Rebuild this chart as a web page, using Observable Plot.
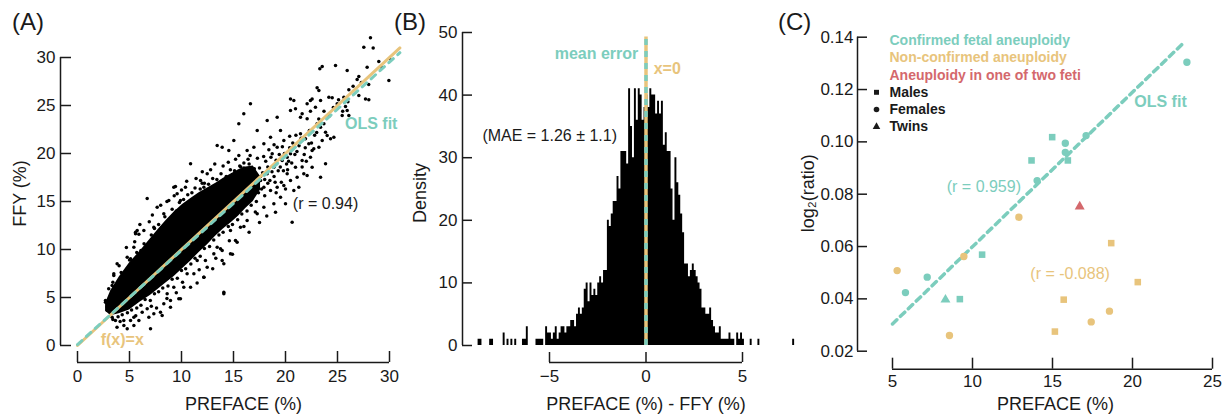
<!DOCTYPE html>
<html>
<head>
<meta charset="utf-8">
<script src="https://cdn.jsdelivr.net/npm/d3@7"></script>
<script src="https://cdn.jsdelivr.net/npm/@observablehq/plot@0.6"></script>
<style>
  html, body { margin: 0; padding: 0; background: #fff; }
  #wrap { position: relative; width: 1226px; height: 414px; overflow: hidden; font-family: "Liberation Sans", Arial, Helvetica, sans-serif; }
  .plab { position: absolute; font-size: 24px; line-height: 28px; color: #1a1a1a; }
</style>
</head>
<body>
<div id="wrap">
  <div class="plab" style="left:12px;top:8px">(A)</div>
  <div class="plab" style="left:394px;top:8px">(B)</div>
  <div class="plab" style="left:778px;top:8px">(C)</div>
</div>
<script>
// ---------------- DATA ----------------
// Panel A: dense core of the PREFACE vs FFY cloud (lower / upper envelope)
const coreX  = [2.7, 3.2, 4.0, 5.0, 6.0, 7.0, 7.7, 8.5, 9.3, 10.1, 10.9, 11.7, 12.5, 13.3, 14.0, 14.8, 15.5, 16.2, 16.9, 17.6];
const coreLo = [3.6, 3.1, 3.3, 3.7, 4.5, 5.2, 5.8, 6.5, 7.2, 8.0, 8.8, 9.7, 10.5, 11.4, 12.1, 12.8, 13.5, 14.3, 15.0, 16.2];
const coreHi = [4.4, 5.7, 7.1, 8.6, 9.8, 11.1, 12.0, 13.0, 13.9, 14.7, 15.3, 15.9, 16.4, 16.9, 17.4, 17.9, 18.3, 18.6, 18.7, 17.6];
// Panel A: individually visible samples [PREFACE, FFY]
const samplesA = [
[28.17,32.05],[27.53,31.08],[28.43,31.0],[28.97,29.58],[29.94,27.6],[27.85,28.99],[27.05,28.02],[26.89,27.71],[25.93,28.65],[24.81,29.17],
[23.53,29.06],[23.3,28.82],[27.05,26.04],[27.69,25.69],[28.01,25.59],[26.09,26.63],[25.61,25.87],[24.97,25.17],[25.77,24.9],[25.93,24.48],
[25.45,23.96],[26.09,23.96],[24.17,25.87],[24.49,25.8],[23.37,25.52],[23.21,26.56],[23.04,26.84],[22.56,25.69],[22.4,25.52],[22.08,25.17],
[22.88,24.83],[22.4,24.41],[21.6,24.13],[20.8,25.52],[20.48,25.69],[20.96,24.65],[20.48,24.48],[21.44,23.78],[22.08,23.61],[23.04,23.09],
[23.37,22.74],[23.69,23.09],[23.85,22.22],[24.01,21.88],[24.33,21.53],[24.65,21.7],[23.53,21.35],[23.21,20.66],[22.72,20.49],[22.56,20.31],
[21.44,22.05],[21.92,21.53],[22.24,21.01],[20.8,20.66],[20.48,19.97],[20.16,19.62],[19.84,21.35],[19.52,22.4],[19.2,23.78],[18.24,23.44],
[17.28,22.4],[16.63,25.17],[15.99,24.13],[15.51,23.09],[15.03,21.35],[14.55,20.31],[13.91,20.66],[13.43,20.83],[15.51,19.79],[16.31,20.31],
[16.96,20.66],[17.92,21.01],[18.56,21.7],[19.2,20.66],[18.72,19.97],[19.68,19.27],[18.88,18.58],[18.24,17.88],[17.6,17.19],[16.96,16.49],
[17.92,16.49],[18.56,16.15],[19.2,16.49],[19.84,16.67],[20.48,17.19],[21.12,17.53],[21.76,17.88],[22.56,18.58],[20.96,18.58],[20.16,17.88],
[19.52,15.45],[18.88,14.76],[19.04,13.89],[20.64,12.85],[21.28,16.49],[22.08,17.71],[23.37,17.53],[23.85,18.92],[22.4,19.62],[21.6,19.27],
[20.8,16.15],[20.0,14.76],[17.92,14.41],[17.28,13.72],[16.31,13.02],[15.67,12.33],[15.19,10.94],[14.07,8.51],[14.71,9.55],[14.07,5.38],
[13.75,10.07],[13.11,9.55],[12.15,7.12],[12.47,8.16],[11.51,8.85],[11.03,9.55],[10.87,18.92],[10.38,16.49],[11.83,17.19],[12.47,17.88],
[12.15,16.49],[13.43,15.45],[11.19,15.1],[9.9,15.1],[9.26,16.49],[8.78,15.1],[8.3,13.72],[7.66,14.41],[6.7,15.3],[7.34,12.33],
[6.38,11.98],[5.74,11.98],[5.58,11.63],[5.42,10.24],[4.78,9.2],[3.81,8.51],[3.49,7.47],[2.69,4.51],[2.85,3.65],[3.33,2.95],
[3.65,2.6],[4.46,2.08],[5.1,2.6],[5.42,2.95],[6.22,3.47],[6.7,3.82],[7.34,3.3],[7.98,3.47],[8.3,4.34],[8.94,3.99],
[9.9,4.86],[8.62,5.38],[9.26,6.08],[10.22,6.08],[10.54,7.47],[11.19,7.47],
[9.42,16.56],[11.99,16.9],[9.58,15.8],[10.54,14.76],[5.58,11.8],[5.9,11.6],[7.34,10.59],[5.1,9.03],[4.3,7.12],[3.49,7.29],
[3.33,6.25],[2.69,4.69],[2.85,4.0],[4.45,2.6],[4.78,1.74],[5.42,2.08],[6.86,2.95],[8.14,3.12],[7.02,1.74],[8.94,4.69],
[9.74,4.86],[10.87,6.08],[12.15,7.12],[12.3,8.85],[13.91,8.85],[14.07,5.55],[13.43,10.24],[13.91,9.9],[14.71,11.98],[15.35,10.76],
[15.51,15.1],[14.07,15.8],[10.87,15.1],[11.5,14.76],
[16.5,18.9],[17.0,18.4],[17.3,19.5],[17.8,18.0],[18.1,19.2],[18.5,17.2],[18.9,17.6],[19.3,18.2],[19.6,17.0],[20.1,18.9],
[20.4,20.6],[20.9,19.9],[21.3,20.8],[21.6,18.6],[22.0,19.2],[16.2,17.9],[16.8,15.4],[17.4,15.9],[18.0,15.6],[16.0,19.0],[15.7,18.6],
[3.0,5.9],[3.4,6.6],[3.8,6.2],[4.2,7.6],[4.6,7.1],[5.0,8.9],[5.3,8.4],[5.7,9.7],[6.1,9.9],[6.4,10.6],[6.8,10.2],[7.1,11.5],
[7.4,12.2],[7.8,12.6],[8.1,12.3],[8.4,13.4],[8.8,13.1],[9.1,14.2],[9.5,14.0],[9.8,14.9],[10.2,15.2],[10.6,15.7],[11.0,15.9],
[11.3,16.4],[11.8,16.3],[12.2,16.9],[12.6,16.8],[13.0,17.4],[13.4,17.3],[13.8,17.9],[14.3,17.6],[14.7,18.3],[15.1,18.2],
[15.6,18.7],[16.0,18.5],[16.4,19.4],
[3.4,2.7],[3.9,3.0],[4.3,3.2],[4.8,3.4],[5.2,3.7],[5.7,3.9],[6.1,4.2],[6.5,4.8],[7.0,4.7],[7.4,5.4],[7.8,5.6],[8.2,6.0],
[8.7,6.2],[9.1,6.9],[9.6,7.0],[10.0,7.8],[10.4,8.0],[10.9,8.5],[11.3,9.1],[11.8,9.3],[12.2,10.1],[12.7,10.3],[13.1,11.0],
[13.6,11.5],[14.0,11.8],[14.5,12.4],[14.9,12.6],[15.4,13.1],[15.8,13.7],[16.3,14.0],[16.7,14.6],[17.2,15.0],
[4.0,8.3],[5.5,10.8],[6.9,12.9],[8.0,14.6],[9.3,15.6],[10.5,17.1],[12.0,18.1],[13.2,18.9],[14.5,19.1],[3.8,1.9],[5.9,2.6],
[7.6,3.9],[9.5,5.5],[11.5,6.5],[13.0,8.0],[14.9,9.5],[16.5,11.8],[17.5,12.8],[18.2,13.5],
[17.6,17.6],[18.3,18.6],[18.7,18.1],[19.1,19.3],[19.5,18.6],[19.9,20.0],[20.3,19.2],[20.7,21.1],[21.1,20.2],[21.5,21.6],
[21.9,20.6],[22.3,22.4],[22.8,21.9],[23.2,23.6],[23.7,24.4],[24.2,23.9],[24.6,24.8],[25.1,25.6],[25.5,24.4],[26.0,25.4],
[26.5,27.0],[27.3,27.4],[28.0,27.2],[29.2,29.0],[30.0,29.9],[17.0,16.9],[17.5,18.5],[18.0,17.3],[18.6,19.6],[19.0,17.0],
[19.4,19.9],[20.2,18.3],[20.6,19.0],[21.0,21.9],[21.8,19.9],[22.5,21.1],[23.0,22.2],
[17.9,19.7],[18.4,20.4],[18.9,20.9],[19.7,20.7],[20.4,21.8],[19.8,18.2],[18.3,16.9],[17.7,16.3],[19.1,15.9],[20.0,16.3],
[16.6,19.8],[15.2,19.4],[14.0,18.7],[12.8,18.3],[11.4,17.4],[10.0,16.2],[8.6,15.0],[7.2,13.6],[6.0,12.6],[4.7,10.2],
[4.1,2.5],[5.6,3.1],[7.1,4.1],[8.6,4.9],[10.1,6.6],[11.7,7.9],[13.3,9.1],[14.6,10.9],[16.0,12.4],[17.1,13.9]
];
const identityA = [[0, 0], [31, 31]];        // f(x) = x
const olsA      = [[0, 0.1], [31, 30.5]];    // OLS fit
const ticksA    = [0, 5, 10, 15, 20, 25, 30];

// Panel B: histogram of PREFACE - FFY (bins of 0.1 starting at -8.7)
const histStart = -8.7, histWidth = 0.1;
const histCounts = [
 1,1,0,0,0,0,1,1,0,0,
 0,0,0,2,0,1,0,1,0,1,
 0,0,0,1,1,3,0,0,0,0,
 1,1,1,1,0,3,2,2,1,2,
 3,1,2,3,3,2,3,3,4,4,
 3,5,6,5,6,9,10,7,10,8,
 9,8,10,11,10,12,12,20,19,21,
 23,23,27,25,31,31,31,29,41,35,
 30,41,36,41,40,36,38,40,38,41,
 40,40,37,39,37,39,32,34,31,31,
 25,20,30,26,24,21,18,13,13,11,
 12,13,12,11,10,9,6,6,5,5,
 6,4,3,2,2,3,1,1,1,1,
 2,1,1,0,2,1,2,1,0,0,
 0,1,0,0,0,1,0,0,0,0,
 0,0,0,0,0,0,0,0,0,0,
 0,0,0,1
];
const meanErrorB = 0.0, refTopB = 49.3;
const yTicksB = [0, 10, 20, 30, 40, 50];
const xTicksB = [-5, 0, 5];

// Panel C
const groupsC = ["Confirmed fetal aneuploidy", "Non-confirmed aneuploidy", "Aneuploidy in one of two feti"];
const sexesC  = ["Males", "Females", "Twins"];
const cPreface = [23.4, 17.1, 15.8, 15.8, 15.96, 14.98, 13.69, 14.04, 10.6, 7.17, 5.81, 9.21, 8.31,
                  5.29, 9.46, 12.9, 8.56, 18.67, 20.33, 15.7, 15.15, 18.56, 17.42, 16.7];
const cLogRatio = [0.1304, 0.1024, 0.0995, 0.0960, 0.0929, 0.1018, 0.0929, 0.0852, 0.0569, 0.0483, 0.0424, 0.0399, 0.0397,
                   0.0508, 0.0562, 0.0712, 0.0260, 0.0613, 0.0464, 0.0397, 0.0275, 0.0353, 0.0312, 0.0753];
const cGroup = [0,0,0,0,0,0,0,0,0,0,0,0,0, 1,1,1,1,1,1,1,1,1,1, 2];
const cSex   = [1,1,1,1,0,0,0,1,0,1,1,0,2, 1,1,1,1,0,0,0,0,1,1, 2];
const olsC = [[5, 0.0304], [23.17, 0.1377]];
const xTicksC = [5, 10, 15, 20, 25];
const yTicksC = [0.02, 0.04, 0.06, 0.08, 0.10, 0.12, 0.14];

// ---------------- STYLE ----------------
const teal = "#7ccdbd", gold = "#e8c47c", red = "#d4686c", ink = "#1a1a1a";
const font = "'Liberation Sans', Arial, Helvetica, sans-serif";
const baseStyle = {fontFamily: font, fontSize: "17px", color: ink, background: "transparent", overflow: "visible"};
const wrap = document.getElementById("wrap");
function place(svg, left) {
  svg.style.position = "absolute";
  svg.style.left = left + "px";
  svg.style.top = "0px";
  wrap.appendChild(svg);
}
const yTitle = {frameAnchor: "left", rotate: -90, textAnchor: "middle", lineAnchor: "middle", fontSize: 18};
const xTitle = {frameAnchor: "bottom", textAnchor: "middle", lineAnchor: "middle", fontSize: 18};

// ---------------- PANEL A ----------------
const coreA = coreX.map((x, i) => ({x, lo: coreLo[i], hi: coreHi[i]}));
const plotA = Plot.plot({
  width: 410, height: 414,
  marginLeft: 77, marginRight: 21, marginTop: 57, marginBottom: 69,
  style: baseStyle,
  x: {domain: [ticksA[0], ticksA[ticksA.length - 1]]},
  y: {domain: [ticksA[0], ticksA[ticksA.length - 1]]},
  marks: [
    Plot.areaY(coreA, {x: "x", y1: "lo", y2: "hi", fill: "black"}),
    Plot.dot(samplesA, {x: d => d[0], y: d => d[1], r: 1.75, fill: "black"}),
    Plot.line(identityA, {x: d => d[0], y: d => d[1], stroke: gold, strokeWidth: 3}),
    Plot.line(olsA, {x: d => d[0], y: d => d[1], stroke: teal, strokeWidth: 3, strokeDasharray: "6,6"}),
    Plot.text(["OLS fit"], {x: 28.24, y: 23.1, fill: teal, fontWeight: "bold", fontSize: 16}),
    Plot.text(["f(x)=x"], {x: 4.3, y: 0.6, fill: gold, fontWeight: "bold", fontSize: 16}),
    Plot.text(["(r = 0.94)"], {x: 23.85, y: 14.8, fill: ink, fontSize: 16}),
    Plot.ruleX([ticksA[0]], {y1: ticksA[0], y2: ticksA[ticksA.length - 1], dx: -17, stroke: ink, strokeWidth: 1.5}),
    Plot.ruleY([ticksA[0]], {x1: ticksA[0], x2: ticksA[ticksA.length - 1], dy: 17, stroke: ink, strokeWidth: 1.5}),
    Plot.axisY(ticksA, {anchor: "left", tickSize: -11, tickPadding: 16, dx: -17, label: null, strokeWidth: 1.5, stroke: ink, fontSize: 17}),
    Plot.axisX(ticksA, {anchor: "bottom", tickSize: -11, tickPadding: 18, dy: 17, label: null, strokeWidth: 1.5, stroke: ink, fontSize: 17}),
    Plot.text(["PREFACE (%)"], {...xTitle, dx: 10, dy: 59}),
    Plot.text(["FFY (%)"], {...yTitle, dx: -57, dy: -8})
  ]
});
place(plotA, 0);

// ---------------- PANEL B ----------------
const histB = histCounts.map((c, i) => ({x: histStart + i * histWidth, count: c}));
histB.push({x: histStart + histCounts.length * histWidth, count: histCounts[histCounts.length - 1]});
const plotB = Plot.plot({
  width: 400, height: 414,
  marginLeft: 61.8, marginRight: 10.1, marginTop: 32, marginBottom: 69,
  style: baseStyle,
  x: {domain: [-9, 8]},
  y: {domain: [yTicksB[0], yTicksB[yTicksB.length - 1]]},
  marks: [
    Plot.areaY(histB, {x: "x", y: "count", curve: "step-after", fill: "black"}),
    Plot.ruleX([meanErrorB], {y1: 0, y2: refTopB, stroke: gold, strokeWidth: 3.5}),
    Plot.ruleX([meanErrorB], {y1: 0, y2: refTopB, stroke: teal, strokeWidth: 3.5, strokeDasharray: "6,6"}),
    Plot.text(["mean error"], {x: -0.4, y: 46.6, textAnchor: "end", fill: teal, fontWeight: "bold", fontSize: 16}),
    Plot.text(["x=0"], {x: 0.4, y: 44.2, textAnchor: "start", fill: gold, fontWeight: "bold", fontSize: 16}),
    Plot.text(["(MAE = 1.26 \u00b1 1.1)"], {x: -4.99, y: 33.5, fill: ink, fontSize: 16}),
    Plot.ruleX([-9], {y1: yTicksB[0], y2: yTicksB[yTicksB.length - 1], dx: -9.8, stroke: ink, strokeWidth: 1.5}),
    Plot.ruleY([0], {x1: xTicksB[0], x2: xTicksB[xTicksB.length - 1], dy: 17, stroke: ink, strokeWidth: 1.5}),
    Plot.axisY(yTicksB, {anchor: "left", tickSize: -10, tickPadding: 15, dx: -9.8, label: null, strokeWidth: 1.5, stroke: ink, fontSize: 17}),
    Plot.axisX(xTicksB, {anchor: "bottom", tickSize: -10, tickPadding: 17, dy: 17, label: null, strokeWidth: 1.5, stroke: ink, fontSize: 17}),
    Plot.text(["PREFACE (%) - FFY (%)"], {...xTitle, x: 0, dy: 59}),
    Plot.text(["Density"], {...yTitle, dx: -52, dy: 4})
  ]
});
place(plotB, 410);

// ---------------- PANEL C ----------------
const pointsC = cPreface.map((x, i) => ({x, y: cLogRatio[i], group: groupsC[cGroup[i]], sex: sexesC[cSex[i]]}));
const legendColors = [teal, gold, red];
const legendSymbols = ["square", "circle", "triangle"];
const rowGap = 17.2;
const legendMarks = [];
groupsC.forEach((g, i) => {
  legendMarks.push(Plot.text([g], {frameAnchor: "top-left", dx: -3, dy: 3.5 + i * rowGap, textAnchor: "start", lineAnchor: "middle", fill: legendColors[i], fontWeight: "bold", fontSize: 14}));
});
sexesC.forEach((s, i) => {
  const k = i + groupsC.length;
  legendMarks.push(Plot.dot([s], {frameAnchor: "top-left", dx: -16, dy: 3.5 + k * rowGap, symbol: () => legendSymbols[i], r: 2.8, fill: ink}));
  legendMarks.push(Plot.text([s], {frameAnchor: "top-left", dx: -3, dy: 3.5 + k * rowGap, textAnchor: "start", lineAnchor: "middle", fill: ink, fontWeight: "bold", fontSize: 14}));
});
const plotC = Plot.plot({
  width: 426, height: 414,
  marginLeft: 92, marginRight: 14, marginTop: 36.7, marginBottom: 63.3,
  style: baseStyle,
  x: {domain: [xTicksC[0], xTicksC[xTicksC.length - 1]]},
  y: {domain: [yTicksC[0], yTicksC[yTicksC.length - 1]]},
  color: {domain: groupsC, range: legendColors},
  symbol: {domain: sexesC, range: legendSymbols},
  marks: [
    Plot.line(olsC, {x: d => d[0], y: d => d[1], stroke: teal, strokeWidth: 3.5, strokeDasharray: "6,5"}),
    Plot.dot(pointsC, {x: "x", y: "y", fill: "group", symbol: "sex", r: 3.7}),
    Plot.text(["OLS fit"], {x: 21.75, y: 0.1152, fill: teal, fontWeight: "bold", fontSize: 16}),
    Plot.text(["(r = 0.959)"], {x: 10.71, y: 0.0828, fill: teal, fontSize: 16}),
    Plot.text(["(r = -0.088)"], {x: 16.1, y: 0.0494, fill: gold, fontSize: 16}),
    ...legendMarks,
    Plot.ruleX([xTicksC[0]], {y1: yTicksC[0], y2: yTicksC[yTicksC.length - 1], dx: -35, stroke: ink, strokeWidth: 1.5}),
    Plot.ruleY([yTicksC[0]], {x1: xTicksC[0], x2: xTicksC[xTicksC.length - 1], dy: 18, stroke: ink, strokeWidth: 1.5}),
    Plot.axisY(yTicksC, {anchor: "left", tickSize: -10, tickPadding: 14, dx: -35, label: null, tickFormat: d3.format(".2f"), strokeWidth: 1.5, stroke: ink, fontSize: 17}),
    Plot.axisX(xTicksC, {anchor: "bottom", tickSize: -11, tickPadding: 16.5, dy: 18, label: null, strokeWidth: 1.5, stroke: ink, fontSize: 17}),
    Plot.text(["PREFACE (%)"], {...xTitle, dx: 3, dy: 53}),
    Plot.text(["log\u2082(ratio)"], {...yTitle, dx: -84, dy: -1})
  ]
});
place(plotC, 800);
</script>
</body>
</html>
